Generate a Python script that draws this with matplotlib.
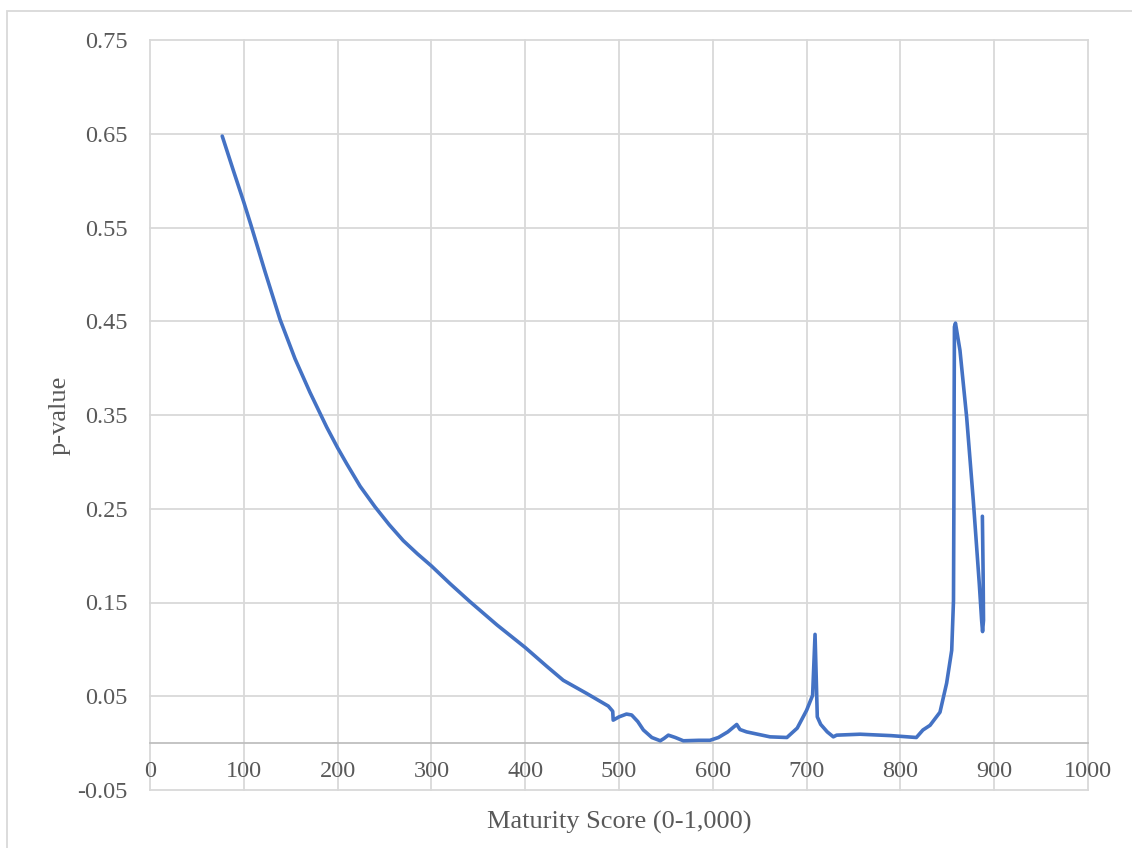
import matplotlib
matplotlib.use("Agg")
import matplotlib.pyplot as plt
from matplotlib.patches import Rectangle

# values
maturity = [77, 88.8, 100, 107.5, 122.6, 138.6, 154.6, 170.6, 188.4, 200, 209.7,
            224, 239.9, 255, 270, 285, 300, 320,
            341, 370, 400, 408.6, 422.9, 440.6, 465.5, 488.6, 493.3, 493.8, 500,
            508, 513.5, 520, 526, 535, 544, 548, 552.6, 560, 568.6, 585, 597,
            606, 616, 625.5, 629, 636, 661, 679, 690, 700, 706.4, 709, 711.4,
            715, 722, 728.5, 732, 757, 790, 817, 824, 831.6, 842.2, 849.3,
            854.7, 856.6, 857, 857.3, 857.6, 858.7, 863.5, 870.6, 877.7,
            884.1, 886.6, 887.6, 888.6, 888.2, 887.4]
p_value = [0.6475, 0.611, 0.577, 0.553, 0.503, 0.452, 0.41, 0.374, 0.337, 0.315, 0.298,
           0.274, 0.252, 0.233, 0.216, 0.202, 0.189, 0.170,
           0.151, 0.126, 0.102, 0.0945, 0.082, 0.067, 0.053, 0.0395, 0.034, 0.0245, 0.028,
           0.031, 0.030, 0.023, 0.014, 0.006, 0.0025, 0.005, 0.0085, 0.006, 0.0025, 0.003, 0.003,
           0.006, 0.012, 0.0199, 0.0145, 0.012, 0.0067, 0.006, 0.016, 0.035, 0.051, 0.116, 0.028,
           0.020, 0.012, 0.0067, 0.0085, 0.0095, 0.008, 0.006, 0.014, 0.019, 0.033, 0.064,
           0.099, 0.152, 0.25, 0.366, 0.444, 0.448, 0.419, 0.348, 0.259,
           0.170, 0.131, 0.119, 0.131, 0.18, 0.242]

x_ticks = list(range(0, 1001, 100))
y_ticks = [-0.05, 0.05, 0.15, 0.25, 0.35, 0.45, 0.55, 0.65, 0.75]

plt.rcParams['font.family'] = ['Liberation Serif', 'DejaVu Serif']

fig = plt.figure(figsize=(11.32, 8.48), dpi=100)
ax = fig.add_axes([150 / 1132, 58 / 848, 938 / 1132, 750 / 848])

ax.plot(maturity, p_value, color='#4472C4', linewidth=2.6,
        solid_joinstyle='round', solid_capstyle='round', zorder=3)

ax.set_xlim(0, 1000)
ax.set_ylim(-0.05, 0.75)
ax.set_xticks(x_ticks)
ax.set_yticks(y_ticks)
ax.set_xticklabels([str(t) for t in x_ticks])
ax.set_yticklabels(['%.2f' % t for t in y_ticks])

for side in ['top', 'right', 'left']:
    ax.spines[side].set_visible(False)
ax.spines['bottom'].set_position(('data', 0))
ax.spines['bottom'].set_color('#bfbfbf')
ax.spines['bottom'].set_linewidth(1.3)
ax.spines['bottom'].set_zorder(2)

ax.grid(True, color='#d9d9d9', linewidth=1.3, zorder=0)
ax.set_axisbelow(True)
for gl in ax.get_xgridlines() + ax.get_ygridlines():
    gl.set_clip_on(False)

ax.tick_params(axis='both', length=0, labelsize=17.5, labelcolor='#595959')
ax.tick_params(axis='x', pad=13)
ax.tick_params(axis='y', pad=16)

fig.text(619 / 1132, 1 - 822 / 848, 'Maturity Score (0-1,000)', ha='center', va='center',
         fontsize=19, color='#595959')
fig.text(60 / 1132, 1 - 415 / 848, 'p-value', ha='center', va='center', rotation=90,
         fontsize=19, color='#595959')

# outer chart frame
fig.patches.append(Rectangle((7 / 1132, -0.05), 1.2, 1.05 - 11 / 848, transform=fig.transFigure,
                             fill=False, edgecolor='#d9d9d9', linewidth=1.3))

plt.savefig('out.png', dpi=100)
plt.close()
